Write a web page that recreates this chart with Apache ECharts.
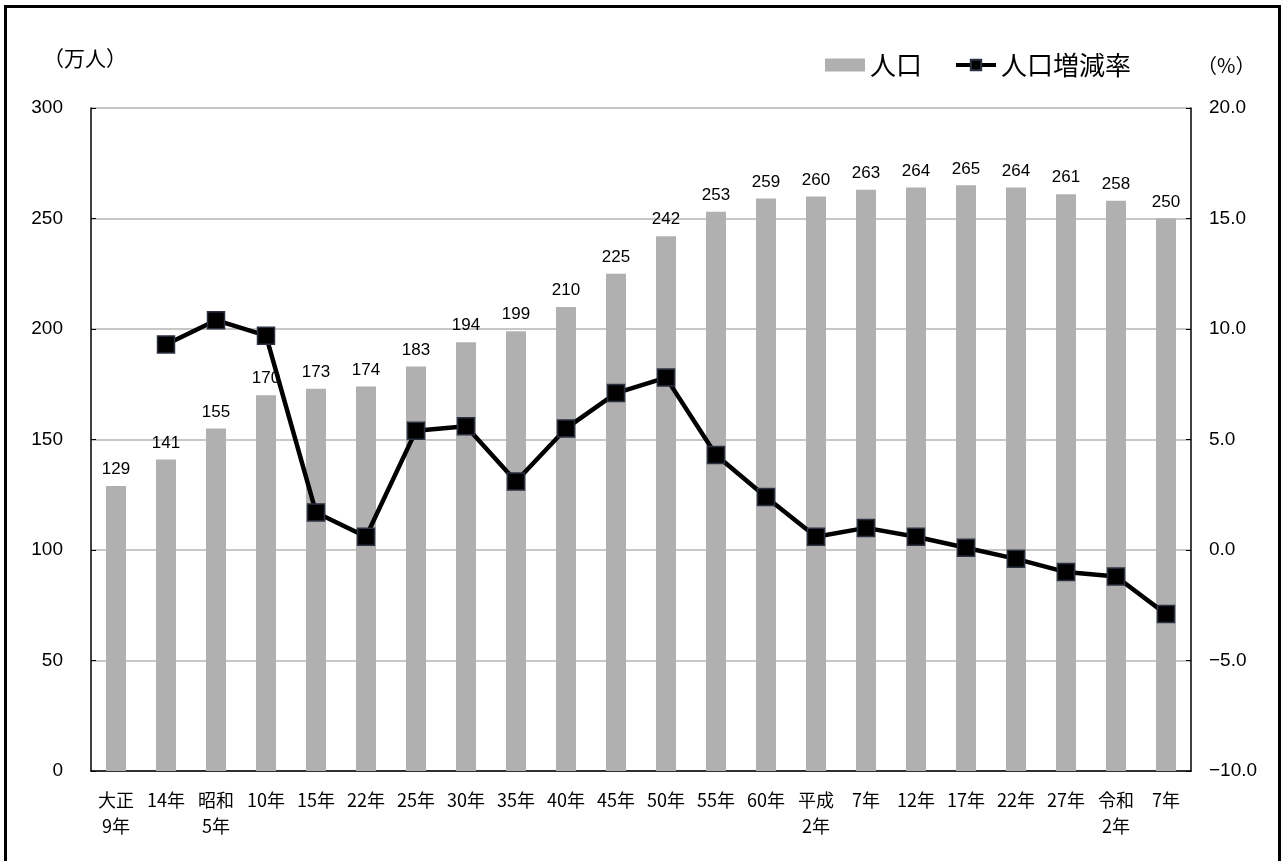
<!DOCTYPE html>
<html>
<head>
<meta charset="utf-8">
<script src="https://cdn.jsdelivr.net/npm/echarts@6/dist/echarts.min.js"></script>
<style>
  html, body { margin: 0; padding: 0; background: #fff; overflow: hidden; }
  #chart {
    position: absolute; left: 4px; top: 5px;
    width: 1271px; height: 856px;
    border: 3px solid #000;
  }
</style>
</head>
<body>
<div id="chart"></div>
<script>
// 年次
const categories = ['大正\n9年', '14年', '昭和\n5年', '10年', '15年', '22年', '25年', '30年', '35年', '40年',
  '45年', '50年', '55年', '60年', '平成\n2年', '7年', '12年', '17年', '22年', '27年', '令和\n2年', '7年']
// 人口（万人）
const population = [129, 141, 155, 170, 173, 174, 183, 194, 199, 210, 225, 242, 253, 259, 260, 263, 264, 265, 264, 261, 258, 250]
// 人口増減率（%）
const changeRate = [null, 9.3, 10.4, 9.7, 1.7, 0.6, 5.4, 5.6, 3.1, 5.5, 7.1, 7.8, 4.3, 2.4, 0.6, 1.0, 0.6, 0.1, -0.4, -1.0, -1.2, -2.9]

const font = '"Noto Sans CJK JP", "Liberation Sans", sans-serif'
const numFont = '"Liberation Sans", sans-serif'

const chart = echarts.init(document.getElementById('chart'))
chart.setOption({
  animation: false,
  textStyle: { fontFamily: font },
  grid: { left: 84, right: 87, top: 100, bottom: 93 },
  legend: {
    right: 142,
    top: 39,
    itemGap: 32,
    itemWidth: 40,
    itemHeight: 13,
    textStyle: { fontSize: 26, color: '#000', fontFamily: font },
    data: [
      { name: '人口', icon: 'rect' },
      { name: '人口増減率', lineStyle: { width: 4 } }
    ]
  },
  graphic: [
    { type: 'text', left: 36, top: 40, style: { text: '（万人）', font: '21px ' + font, fill: '#000' } },
    { type: 'text', left: 1190, top: 47, style: { text: '（%）', font: '20px ' + font, fill: '#000' } }
  ],
  xAxis: {
    type: 'category',
    data: categories,
    axisLine: { lineStyle: { color: '#000', width: 1.5 } },
    axisTick: { inside: true, length: 5, lineStyle: { color: '#000' } },
    axisLabel: { color: '#000', fontSize: 18, lineHeight: 26, margin: 16, interval: 0 }
  },
  yAxis: [
    {
      type: 'value', min: 0, max: 300, interval: 50,
      axisLine: { show: true, lineStyle: { color: '#000', width: 1.5 } },
      axisTick: { show: true, inside: true, length: 5, lineStyle: { color: '#000' } },
      axisLabel: { color: '#000', fontSize: 19, margin: 28, fontFamily: numFont },
      splitLine: { lineStyle: { color: '#b4b4b4', width: 1.5 } }
    },
    {
      type: 'value', min: -10, max: 20, interval: 5,
      axisLine: { show: true, lineStyle: { color: '#000', width: 1.5 } },
      axisTick: { show: true, inside: true, length: 5, lineStyle: { color: '#000' } },
      axisLabel: {
        color: '#000', fontSize: 19, margin: 18, fontFamily: numFont,
        formatter: v => (v < 0 ? '−' : '') + Math.abs(v).toFixed(1)
      },
      splitLine: { show: false }
    }
  ],
  series: [
    {
      name: '人口',
      type: 'bar',
      data: population,
      barWidth: '40%',
      itemStyle: { color: '#b0b0b0' },
      label: { show: true, position: 'top', color: '#000', fontSize: 17, distance: 8, fontFamily: numFont }
    },
    {
      name: '人口増減率',
      type: 'line',
      yAxisIndex: 1,
      data: changeRate,
      symbol: 'rect',
      symbolSize: 17,
      lineStyle: { color: '#000', width: 4.5 },
      itemStyle: { color: '#000', borderColor: '#2b3140', borderWidth: 1.5 }
    }
  ]
})
</script>
</body>
</html>
